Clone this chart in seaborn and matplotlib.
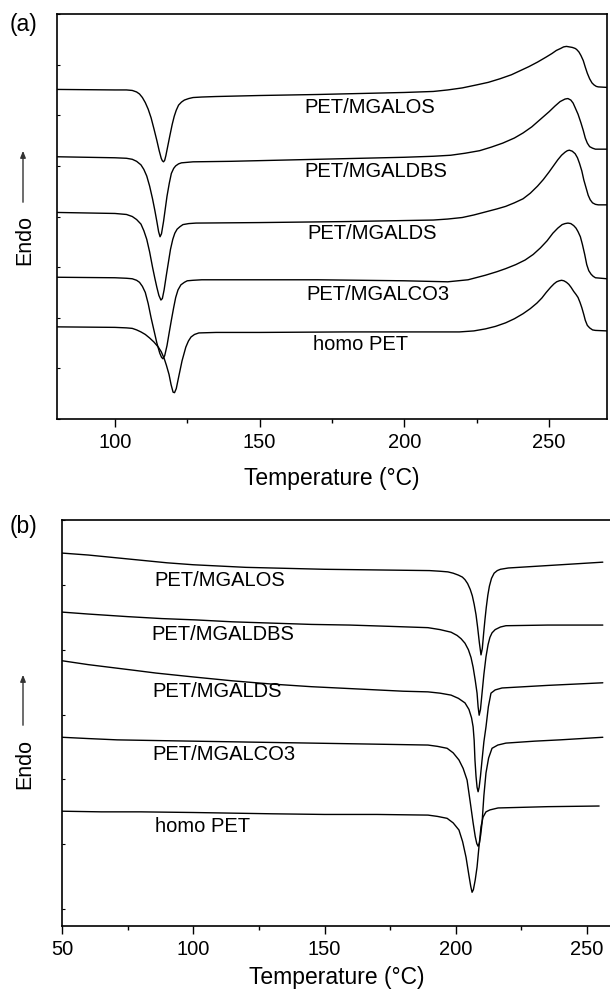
import numpy as np
import pandas as pd
import matplotlib
matplotlib.use("Agg")
import matplotlib.pyplot as plt
import seaborn as sns

sns.set_style("ticks")
plt.rcParams['font.family'] = ['Liberation Sans', 'DejaVu Sans']
plt.rcParams.update({"text.color": "black", "axes.labelcolor": "black",
                     "xtick.color": "black", "ytick.color": "black", "axes.edgecolor": "black"})

samples = ["PET/MGALOS", "PET/MGALDBS", "PET/MGALDS", "PET/MGALCO3", "homo PET"]

# ---------------- (a) heating scan ----------------
a_los_T = [80, 100, 104, 106, 107.5, 108.5, 109.5, 110.5, 111.5, 112.5, 113.5, 114.5, 115.3, 116, 116.4, 116.8, 117.2,
           117.6, 118.3, 119, 119.8, 120.5, 121.2, 122, 123, 124, 125.5, 127, 130, 135, 150, 170,
           200, 210, 215, 220, 225, 229, 233, 237, 240, 243, 246, 249, 251, 252.5, 254, 255, 256, 257, 258, 259, 259.5,
           260.3, 261, 261.8, 262.5, 263.2, 264, 264.8, 265.5, 266.3, 267, 270]
a_los_H = [6.51, 6.50, 6.50, 6.49, 6.46, 6.42, 6.35, 6.25, 6.12, 5.95, 5.73, 5.50, 5.30, 5.15, 5.10, 5.08, 5.11,
           5.20, 5.40, 5.60, 5.82, 5.98, 6.10, 6.20, 6.26, 6.30, 6.33, 6.35, 6.36, 6.37, 6.39, 6.41,
           6.45, 6.47, 6.50, 6.54, 6.60, 6.65, 6.72, 6.80, 6.88, 6.96, 7.05, 7.15, 7.22, 7.28, 7.32, 7.35, 7.36, 7.35,
           7.34, 7.32, 7.30, 7.25, 7.18, 7.08, 6.95, 6.83, 6.72, 6.64, 6.60, 6.57, 6.56, 6.55]

a_dbs_T = [80, 100, 104, 106, 107.5, 109, 110, 111, 112, 113, 113.8, 114.5, 115.1, 115.6, 116.1, 116.8, 117.4, 118,
           118.8, 119.5, 120.3, 121, 122, 123, 125, 127, 140, 170, 200, 210, 216, 221, 226, 230, 234, 238, 241, 244,
           247, 250, 252, 253.8, 255.5, 256.5, 257.5, 258.3, 259, 260, 261, 261.8, 262.5, 263.2, 264, 265, 266, 270]
a_dbs_H = [5.18, 5.16, 5.15, 5.13, 5.09, 5.02, 4.93, 4.80, 4.60, 4.35, 4.12, 3.90, 3.70, 3.60, 3.66, 3.90, 4.15, 4.40,
           4.66, 4.85, 4.95, 5.00, 5.04, 5.06, 5.07, 5.08, 5.09, 5.13, 5.17, 5.19, 5.21, 5.25, 5.30, 5.37, 5.45, 5.55,
           5.65, 5.77, 5.92, 6.07, 6.18, 6.27, 6.32, 6.33, 6.30, 6.24, 6.15, 6.02, 5.85, 5.70, 5.55, 5.45, 5.38, 5.35,
           5.33, 5.33]

a_ds_T = [80, 100, 104, 106, 107.5, 109, 110, 111, 112, 113, 113.8, 114.5, 115.2, 115.9, 116.4, 117, 117.8, 118.5,
          119.2, 120, 120.7, 121.5, 122.5, 123.5, 125.5, 128, 150, 180, 210, 215, 220, 224, 228, 232, 235, 238, 241,
          243.5, 246, 248, 250, 251.5, 253, 254.3, 255.5, 256.3, 257, 258, 259, 259.8, 260.5, 261.3, 262, 262.8,
          263.5, 264.2, 265, 266, 267, 270]
a_ds_H = [4.08, 4.06, 4.04, 4.00, 3.94, 3.85, 3.72, 3.55, 3.30, 3.00, 2.78, 2.60, 2.44, 2.35, 2.38, 2.55, 2.85, 3.10,
          3.35, 3.55, 3.67, 3.75, 3.80, 3.84, 3.86, 3.87, 3.88, 3.90, 3.93, 3.95, 3.98, 4.03, 4.09, 4.15, 4.20, 4.27,
          4.35, 4.46, 4.60, 4.73, 4.88, 5.00, 5.12, 5.21, 5.27, 5.30, 5.31, 5.29, 5.24, 5.16, 5.05, 4.90, 4.72, 4.56,
          4.42, 4.33, 4.27, 4.24, 4.23, 4.23]

a_co3_T = [80, 100, 104, 106, 107.5, 108.5, 109.5, 110.5, 111.5, 112.5, 113.5, 114.5, 115.5, 116.1, 116.6, 117.2, 118,
           118.8, 119.5, 120.3, 121, 121.8, 122.8, 124, 125, 127, 130, 170, 200, 215, 222, 228, 232, 235, 238.5,
           241.7, 244.5, 247, 249.3, 251.3, 253, 254.5, 255.5, 256.5, 257.5, 258.5, 259.3, 260, 260.8, 261.5, 262.3,
           263, 263.7, 264.5, 265.2, 266, 270]
a_co3_H = [2.80, 2.79, 2.78, 2.77, 2.74, 2.70, 2.62, 2.50, 2.28, 2.00, 1.75, 1.50, 1.30, 1.22, 1.19, 1.25, 1.45,
           1.72, 1.95, 2.20, 2.40, 2.55, 2.65, 2.70, 2.73, 2.74, 2.75, 2.75, 2.73, 2.71, 2.75, 2.84, 2.91, 2.97, 3.05,
           3.14, 3.25, 3.38, 3.52, 3.67, 3.77, 3.84, 3.86, 3.87, 3.86, 3.82, 3.77, 3.70, 3.60, 3.45, 3.25, 3.05, 2.93,
           2.86, 2.82, 2.79, 2.77]

a_pet_T = [80, 100, 104, 106, 107.5, 109, 110.5, 112, 113.5, 115, 116, 117, 117.8, 118.7, 119.4, 120.1, 120.6, 121.2,
           122.1, 123.2, 124.5, 125.4, 126.3, 127.5, 129, 135, 150, 180, 219, 224, 228, 231.5, 235, 238, 241, 243.5,
           245.8, 247.5, 249, 250.5, 251.7, 252.6, 253.5, 254.3, 255.1, 256, 256.8, 257.6, 258.5, 259.3, 260, 260.7,
           261.3, 262, 262.5, 263.2, 264, 265, 266, 270]
a_pet_H = [1.82, 1.81, 1.80, 1.79, 1.76, 1.72, 1.67, 1.60, 1.52, 1.42, 1.33, 1.20, 1.06, 0.88, 0.68, 0.53, 0.52, 0.60,
           0.85, 1.15, 1.42, 1.54, 1.62, 1.67, 1.70, 1.71, 1.71, 1.72, 1.72, 1.74, 1.78, 1.83, 1.90, 1.98, 2.08, 2.18,
           2.29, 2.39, 2.50, 2.60, 2.67, 2.71, 2.73, 2.74, 2.73, 2.70, 2.66, 2.60, 2.52, 2.46, 2.40, 2.30, 2.20, 2.06,
           1.95, 1.85, 1.80, 1.76, 1.75, 1.74]

# ---------------- (b) cooling scan ----------------
b_los_T = [50, 60, 70, 80, 90, 100, 110, 120, 130, 150, 170, 190, 194, 197, 199, 201, 202.5, 203.5, 204.5, 205.5, 206.3,
           207, 207.7, 208.3, 209, 209.6, 210.1, 210.6, 211.1, 211.6, 212.2, 212.8, 213.6, 214.6, 215.8, 217, 220,
           240, 256]
b_los_H = [5.49, 5.46, 5.42, 5.38, 5.34, 5.31, 5.29, 5.27, 5.26, 5.24, 5.23, 5.22, 5.21, 5.20, 5.18, 5.15, 5.12, 5.08,
           5.02, 4.93, 4.83, 4.70, 4.54, 4.35, 4.10, 3.92, 4.02, 4.25, 4.46, 4.65, 4.84, 4.98, 5.10, 5.18, 5.22, 5.24,
           5.26, 5.31, 5.35]

b_dbs_T = [50, 60, 75, 88, 100.7, 115, 130, 145, 159.7, 175, 189.4, 194, 198.2, 200.5, 202, 203.5, 204.8, 205.8, 206.6,
           207.4, 208.1, 208.5, 208.9, 209.4, 210, 210.7, 211.5, 212.3, 213, 213.8, 215, 217, 219.1, 235, 256]
b_dbs_H = [4.58, 4.55, 4.51, 4.48, 4.46, 4.43, 4.41, 4.39, 4.38, 4.36, 4.34, 4.31, 4.27, 4.22, 4.17, 4.10, 4.00, 3.88,
           3.73, 3.53, 3.33, 3.12, 2.99, 3.08, 3.33, 3.62, 3.89, 4.08, 4.19, 4.26, 4.31, 4.35, 4.37, 4.38, 4.38]

b_ds_T = [50, 60, 70, 78, 85.8, 100, 115, 130, 144.9, 160, 170, 180, 189.4, 194, 198.2, 201, 203.5, 205, 206, 206.6,
          207, 207.3, 207.7, 208.1, 208.5, 208.9, 209.4, 210, 210.7, 211.5, 212.4, 213.4, 215, 217.6, 235, 256]
b_ds_H = [3.83, 3.77, 3.72, 3.68, 3.64, 3.58, 3.52, 3.47, 3.43, 3.40, 3.38, 3.36, 3.35, 3.33, 3.30, 3.25, 3.18, 3.08,
          2.95, 2.81, 2.60, 2.30, 2.05, 1.88, 1.81, 1.88, 2.05, 2.30, 2.58, 2.81, 3.12, 3.33, 3.38, 3.41, 3.45, 3.49]

b_co3_T = [50, 60, 71, 85, 100, 115, 130, 145, 160, 175, 189.4, 193, 196.7, 199, 201.2, 202.8, 204.3, 205.5, 206.6,
           207.4, 208, 208.5, 209, 209.5, 210, 210.7, 211.5, 212.5, 213.8, 216, 219.1, 230, 239.7, 256]
b_co3_H = [2.65, 2.63, 2.61, 2.60, 2.59, 2.58, 2.57, 2.56, 2.55, 2.54, 2.53, 2.51, 2.48, 2.41, 2.30, 2.17, 1.99, 1.65,
           1.33, 1.12, 1.01, 0.97, 1.02, 1.15, 1.33, 1.75, 2.10, 2.33, 2.48, 2.53, 2.56, 2.59, 2.61, 2.65]

b_pet_T = [50, 65, 80, 100, 115.1, 130, 150, 170, 189.4, 193, 196.7, 199, 201.2, 202.6, 203.9, 205, 205.7, 206.2, 206.7,
           207.4, 208.1, 208.8, 209.6, 210.4, 211.5, 213, 216.1, 235, 254.6]
b_pet_H = [1.51, 1.50, 1.50, 1.49, 1.48, 1.47, 1.46, 1.46, 1.45, 1.43, 1.40, 1.33, 1.22, 1.04, 0.80, 0.52, 0.35, 0.26,
           0.30, 0.45, 0.65, 0.95, 1.27, 1.42, 1.50, 1.53, 1.56, 1.58, 1.59]

a_curves = [(a_los_T, a_los_H), (a_dbs_T, a_dbs_H), (a_ds_T, a_ds_H), (a_co3_T, a_co3_H), (a_pet_T, a_pet_H)]
b_curves = [(b_los_T, b_los_H), (b_dbs_T, b_dbs_H), (b_ds_T, b_ds_H), (b_co3_T, b_co3_H), (b_pet_T, b_pet_H)]


def to_frame(curves):
    rows = []
    for name, (T, Hf) in zip(samples, curves):
        for i, (t, h) in enumerate(zip(T, Hf)):
            rows.append({"sample": name, "order": i, "T": t, "H": h})
    return pd.DataFrame(rows)


df_a = to_frame(a_curves)
df_b = to_frame(b_curves)

# label positions (layout)
a_label_pos = [(188, 6.16), (190, 4.88), (189, 3.67), (191, 2.45), (185, 1.48)]
b_label_pos = [(110, 5.06), (111.3, 4.23), (109, 3.36), (111.7, 2.38), (103.7, 1.27)]

W, H = 610, 994
fig = plt.figure(figsize=(W / 100, H / 100), dpi=100)
ax1 = fig.add_axes([57 / W, 1 - 419 / H, 550 / W, 405 / H])
ax2 = fig.add_axes([62 / W, 1 - 926 / H, 550 / W, 406 / H])

for ax, df, lp, xlim, ylim, xmaj, yt, lpad in [
    (ax1, df_a, a_label_pos, (80, 270), (0, 8), [100, 150, 200, 250], np.arange(0, 9, 1), 11),
    (ax2, df_b, b_label_pos, (50, 259.5), (-0.26, 6.0), [50, 100, 150, 200, 250], np.arange(0, 7, 1), 5),
]:
    sns.lineplot(data=df, x="T", y="H", units="sample", estimator=None, sort=False,
                 color="black", lw=1.0, ax=ax, legend=False)
    for name, (x, y) in zip(samples, lp):
        ax.text(x, y, name, fontsize=14.5, ha="center", va="center", color="black")
    ax.set_xticks(xmaj)
    ax.set_xticks(np.arange(75, 275, 50), minor=True)
    ax.set_yticks(yt)
    ax.set_yticklabels([])
    ax.set_xlim(*xlim)
    ax.set_ylim(*ylim)
    ax.tick_params(axis="x", which="major", direction="out", length=5.5, width=1.0, labelsize=14.5, pad=4.5)
    ax.tick_params(axis="x", which="minor", direction="out", length=3, width=1.0)
    ax.tick_params(axis="y", which="major", direction="in", length=2.5, width=0.8)
    ax.set_xlabel("Temperature (°C)", fontsize=16.5, labelpad=lpad)
    ax.set_ylabel("")
    for s in ax.spines.values():
        s.set_linewidth(1.2)
        s.set_color("black")

ax2.spines["right"].set_visible(False)

fig.text(23 / W, 1 - 25 / H, "(a)", fontsize=16.5, ha="center", va="center")
fig.text(23 / W, 1 - 527 / H, "(b)", fontsize=16.5, ha="center", va="center")

for y_text, y_tail, y_head in [(240, 205, 148), (764, 728, 672)]:
    fig.text(25 / W, 1 - y_text / H, "Endo", fontsize=15.5, rotation=90, ha="center", va="center")
    fig.patches.append(matplotlib.patches.FancyArrowPatch(
        (23 / W, 1 - y_tail / H), (23 / W, 1 - y_head / H), transform=fig.transFigure,
        arrowstyle="-|>,head_length=4,head_width=1.6", mutation_scale=1, color="#333333", lw=1.0))

fig.savefig("out.png", dpi=100)
